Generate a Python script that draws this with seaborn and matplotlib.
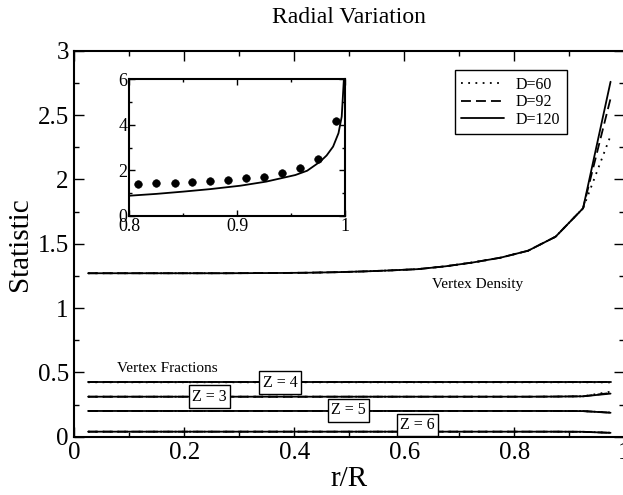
import matplotlib
matplotlib.use('Agg')
import matplotlib.pyplot as plt
from matplotlib.ticker import MultipleLocator
import pandas as pd
import seaborn as sns

# radial bin centres (r/R)
r_bins = [0.025, 0.075, 0.125, 0.175, 0.225, 0.275, 0.325, 0.375, 0.425, 0.475,
          0.525, 0.575, 0.625, 0.675, 0.725, 0.775, 0.825, 0.875, 0.925, 0.975]
d_labels = ['D=60', 'D=92', 'D=120']

# vertex density: identical for all D except the outermost bin
density_shared = [1.271, 1.271, 1.271, 1.271, 1.271, 1.271, 1.272, 1.273, 1.275, 1.279,
                  1.285, 1.293, 1.303, 1.325, 1.355, 1.392, 1.446, 1.555, 1.776]
density_end = {'D=60': 2.34, 'D=92': 2.63, 'D=120': 2.76}

# vertex fractions by coordination number Z
z3_shared = [0.311, 0.311, 0.311, 0.311, 0.311, 0.311, 0.311, 0.311, 0.311, 0.311,
             0.311, 0.311, 0.311, 0.311, 0.311, 0.311, 0.311, 0.312, 0.314]
z3_end = {'D=60': 0.35, 'D=92': 0.34, 'D=120': 0.335}
z4_shared = [0.423, 0.423, 0.423, 0.423, 0.423, 0.423, 0.423, 0.423, 0.423, 0.423,
             0.423, 0.423, 0.423, 0.423, 0.423, 0.423, 0.423, 0.423, 0.423]
z4_end = {'D=60': 0.422, 'D=92': 0.423, 'D=120': 0.423}
z5_shared = [0.200, 0.200, 0.200, 0.200, 0.200, 0.200, 0.200, 0.200, 0.200, 0.200,
             0.200, 0.200, 0.200, 0.200, 0.200, 0.200, 0.200, 0.200, 0.199]
z5_end = {'D=60': 0.188, 'D=92': 0.187, 'D=120': 0.186}
z6_shared = [0.039, 0.039, 0.039, 0.039, 0.039, 0.039, 0.039, 0.039, 0.039, 0.039,
             0.039, 0.039, 0.039, 0.039, 0.039, 0.039, 0.039, 0.039, 0.038]
z6_end = {'D=60': 0.031, 'D=92': 0.030, 'D=120': 0.030}

z_names = ['Z = 3', 'Z = 4', 'Z = 5', 'Z = 6']
z_label_x = [0.245, 0.374, 0.498, 0.624]
z_label_y = [0.311, 0.421, 0.204, 0.089]

# inset: outer region, fine bins vs model curve
inset_pts_x = [0.808, 0.825, 0.842, 0.858, 0.875, 0.892, 0.908, 0.925, 0.942, 0.958, 0.975, 0.992]
inset_pts_y = [1.39, 1.43, 1.45, 1.48, 1.53, 1.57, 1.65, 1.72, 1.87, 2.09, 2.49, 4.18]
inset_curve_x = [0.800, 0.825, 0.850, 0.875, 0.903, 0.927, 0.954, 0.965, 0.977, 0.983, 0.989, 0.994, 0.997, 0.999]
inset_curve_y = [0.88, 0.96, 1.06, 1.17, 1.32, 1.50, 1.79, 1.98, 2.38, 2.65, 3.04, 3.63, 4.36, 6.0]

x_ticklabels = ['0', '0.2', '0.4', '0.6', '0.8', '1']
y_ticklabels = ['0', '0.5', '1', '1.5', '2', '2.5', '3']


def long_frame():
    rows = []
    series = [('density', density_shared, density_end), ('z3', z3_shared, z3_end),
              ('z4', z4_shared, z4_end), ('z5', z5_shared, z5_end), ('z6', z6_shared, z6_end)]
    for name, shared, end in series:
        for d in d_labels:
            for r, v in zip(r_bins, shared + [end[d]]):
                rows.append({'r': r, 'value': v, 'D': d, 'series': name})
    return pd.DataFrame(rows)


sns.set_style('ticks')
plt.rcParams['font.family'] = ['Liberation Serif', 'DejaVu Serif']
plt.rcParams.update({
    'xtick.direction': 'in', 'ytick.direction': 'in',
    'xtick.top': True, 'ytick.right': True,
    'xtick.color': 'black', 'ytick.color': 'black',
    'axes.edgecolor': 'black', 'axes.linewidth': 1.5,
    'text.color': 'black', 'axes.labelcolor': 'black',
})

df = long_frame()
dash_map = {'D=60': (1, 3), 'D=92': (5.5, 2.8), 'D=120': ''}

fig = plt.figure(figsize=(6.23, 4.95), dpi=100)
ax = fig.add_axes([0.1193, 0.1178, 0.8828, 0.7794])

sns.lineplot(data=df[df['series'] == 'density'], x='r', y='value', style='D',
             style_order=d_labels, dashes=dash_map, color='black', lw=1.3,
             estimator=None, ax=ax)
sns.lineplot(data=df[df['series'] != 'density'], x='r', y='value', style='D',
             style_order=d_labels, dashes=dash_map, units='series', color='black',
             lw=1.3, estimator=None, legend=False, ax=ax)

ax.set_xlim(0, 1)
ax.set_ylim(0, 3)
ax.set_xticks([0, 0.2, 0.4, 0.6, 0.8, 1.0])
ax.set_xticklabels(x_ticklabels)
ax.set_yticks([0, 0.5, 1, 1.5, 2, 2.5, 3])
ax.set_yticklabels(y_ticklabels)
ax.xaxis.set_minor_locator(MultipleLocator(0.1))
ax.yaxis.set_minor_locator(MultipleLocator(0.25))
ax.tick_params(which='major', length=7.2, width=1.0, labelsize=18, pad=4)
ax.tick_params(which='minor', length=3.6, width=1.0)
ax.set_xlabel('r/R', fontsize=21, labelpad=1)
ax.set_ylabel('Statistic', fontsize=21, labelpad=3)
ax.set_title('Radial Variation', fontsize=17, pad=20)

ax.text(0.650, 1.187, 'Vertex Density', fontsize=11, ha='left', va='center')
ax.text(0.077, 0.532, 'Vertex Fractions', fontsize=11, ha='left', va='center')
for name, tx, ty in zip(z_names, z_label_x, z_label_y):
    ax.text(tx, ty, name, fontsize=11.5, ha='center', va='center',
            bbox=dict(boxstyle='square,pad=0.2', fc='white', ec='black', lw=1.0))

sns.move_legend(ax, 'upper right', bbox_to_anchor=(0.895, 0.95), title=None,
                frameon=True, fancybox=False, edgecolor='black', framealpha=1,
                fontsize=11.5, handlelength=2.7, handletextpad=0.7,
                labelspacing=0.1, borderaxespad=0)
ax.get_legend().get_frame().set_linewidth(1.0)

# inset
axin = fig.add_axes([0.2075, 0.5642, 0.3462, 0.2756])
sns.lineplot(x=inset_curve_x, y=inset_curve_y, color='black', lw=1.3, ax=axin)
sns.scatterplot(x=inset_pts_x, y=inset_pts_y, color='black', s=30, edgecolor='black', ax=axin)
axin.set_xlim(0.8, 1.0)
axin.set_ylim(0, 6)
axin.set_xticks([0.8, 0.9, 1.0])
axin.set_xticklabels(['0.8', '0.9', '1'])
axin.set_yticks([0, 2, 4, 6])
axin.set_yticklabels(['0', '2', '4', '6'])
axin.xaxis.set_minor_locator(MultipleLocator(0.05))
axin.yaxis.set_minor_locator(MultipleLocator(1))
axin.tick_params(which='major', length=4, width=1.0, labelsize=13, pad=1.5)
axin.tick_params(which='minor', length=2, width=1.0)
for sp in axin.spines.values():
    sp.set_linewidth(1.5)

fig.savefig('out.png', dpi=100)
